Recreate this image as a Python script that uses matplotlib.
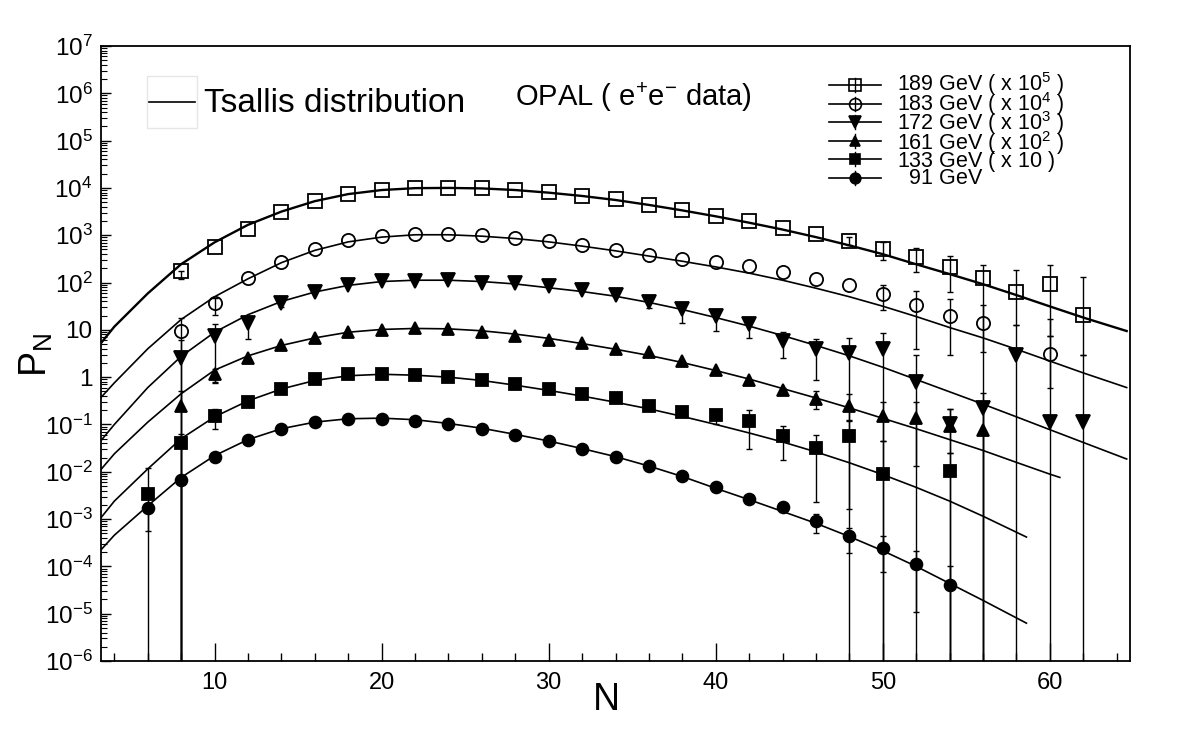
import numpy as np
import matplotlib
matplotlib.use("Agg")
import matplotlib.pyplot as plt
from matplotlib.lines import Line2D
from matplotlib.patches import Rectangle
from matplotlib.ticker import FixedLocator, LogLocator, NullFormatter, MultipleLocator

plt.rcParams['font.family'] = ['Liberation Sans', 'DejaVu Sans']
plt.rcParams['mathtext.fontset'] = 'custom'
plt.rcParams['mathtext.rm'] = 'Liberation Sans'
plt.rcParams['mathtext.it'] = 'Liberation Sans:italic'
plt.rcParams['mathtext.default'] = 'regular'

BOTTOM = 1e-8  # error bars that run off the bottom of the plot

# ---- 189 GeV (x 10^5), open squares
n189 = [8, 10, 12, 14, 16, 18, 20, 22, 24, 26, 28, 30, 32, 34, 36, 38, 40, 42, 44, 46, 48, 50, 52, 54, 56, 58, 60, 62]
v189 = [172, 555, 1350, 3100, 5250, 7500, 9100, 9900, 10000, 9900, 9100, 8150, 6900, 5700, 4450, 3470, 2600, 1980, 1430, 1060, 745, 510, 345, 215, 124, 63, 94, 20.6]
lo189 = [118, 555, 1350, 3100, 5250, 7500, 9100, 9900, 10000, 9900, 9100, 8150, 6900, 5700, 4450, 3470, 2600, 1980, 1430, 1060, 620, 302, 165, 62, BOTTOM, 12.4, 7.4, 2.9]
hi189 = [172, 555, 1350, 3100, 5250, 7500, 9100, 9900, 10000, 9900, 9100, 8150, 6900, 5700, 4450, 3470, 2600, 1980, 1430, 1060, 900, 710, 527, 370, 234, 182, 234, 132]

# ---- 183 GeV (x 10^4), open circles
n183 = [8, 10, 12, 14, 16, 18, 20, 22, 24, 26, 28, 30, 32, 34, 36, 38, 40, 42, 44, 46, 48, 50, 52, 54, 56, 60]
v183 = [9.5, 36.5, 122, 267, 510, 790, 980, 1060, 1060, 1000, 870, 755, 620, 495, 385, 318, 267, 220, 170, 118, 89, 58, 33, 19.7, 14.2, 3.1]
lo183 = [BOTTOM, 21, 122, 267, 510, 790, 980, 1060, 1060, 1000, 870, 755, 620, 495, 385, 318, 267, 220, 170, 118, 89, 26, 3.9, 3.0, 3.4, 0.6]
hi183 = [18, 48, 122, 267, 510, 790, 980, 1060, 1060, 1000, 870, 755, 620, 495, 385, 318, 267, 220, 170, 118, 89, 88, 66, 44, 33, 17]

# ---- 172 GeV (x 10^3), down triangles
n172 = [8, 10, 12, 14, 16, 18, 20, 22, 24, 26, 28, 30, 32, 34, 36, 38, 40, 42, 44, 46, 48, 50, 52, 54, 56, 58, 60, 62]
v172 = [2.6, 7.4, 14.2, 37.8, 62, 88, 107, 107, 111, 97, 96, 83, 68, 55, 39, 27, 19.6, 13.3, 5.8, 3.9, 3.3, 3.9, 0.78, 0.10, 0.224, 2.9, 0.111, 0.111]
lo172 = [BOTTOM, 0.8, 6.3, 30, 62, 88, 107, 107, 111, 97, 96, 83, 68, 55, 29, 14.2, 9.5, 6.6, 2.5, 0.89, BOTTOM, BOTTOM, BOTTOM, BOTTOM, BOTTOM, BOTTOM, BOTTOM, BOTTOM]
hi172 = [6, 13, 18, 45, 62, 88, 107, 107, 111, 97, 96, 83, 68, 55, 44, 34.6, 26.4, 18.2, 9, 6.5, 6.8, 8.7, 3.0, 0.21, 0.47, 12.4, 7.4, 2.9]

# ---- 161 GeV (x 10^2), up triangles
n161 = [8, 10, 12, 14, 16, 18, 20, 22, 24, 26, 28, 30, 32, 34, 36, 38, 40, 42, 44, 46, 48, 50, 52, 54, 56]
v161 = [0.243, 1.15, 2.6, 4.7, 6.8, 9.2, 9.9, 10.8, 10.6, 9.0, 7.4, 6.1, 5.2, 4.0, 3.45, 2.2, 1.41, 0.86, 0.53, 0.34, 0.25, 0.15, 0.135, 0.092, 0.078]
lo161 = [BOTTOM, 0.76, 2.6, 4.7, 6.8, 9.2, 9.9, 10.8, 10.6, 9.0, 7.4, 6.1, 5.2, 4.0, 3.45, 2.2, 1.41, 0.86, 0.45, 0.21, 0.122, 0.044, 0.013, 0.025, BOTTOM]
hi161 = [0.5, 1.5, 2.6, 4.7, 6.8, 9.2, 9.9, 10.8, 10.6, 9.0, 7.4, 6.1, 5.2, 4.0, 3.45, 2.2, 1.41, 0.86, 0.6, 0.5, 0.44, 0.3, 0.3, 0.21, 0.22]

# ---- 133 GeV (x 10), filled squares
n133 = [6, 8, 10, 12, 14, 16, 18, 20, 22, 24, 26, 28, 30, 32, 34, 36, 38, 40, 42, 44, 46, 48, 50, 54]
v133 = [0.0034, 0.041, 0.154, 0.295, 0.567, 0.925, 1.14, 1.14, 1.09, 1.02, 0.89, 0.70, 0.55, 0.43, 0.355, 0.25, 0.185, 0.156, 0.117, 0.056, 0.032, 0.058, 0.0091, 0.0102]
lo133 = [5.6e-4, BOTTOM, 0.081, 0.295, 0.567, 0.925, 1.14, 1.14, 1.09, 1.02, 0.89, 0.70, 0.55, 0.43, 0.355, 0.25, 0.185, 0.10, 0.030, 0.018, 0.0023, 0.0016, BOTTOM, BOTTOM]
hi133 = [0.012, 0.063, 0.21, 0.295, 0.567, 0.925, 1.14, 1.14, 1.09, 1.02, 0.89, 0.70, 0.55, 0.43, 0.355, 0.25, 0.185, 0.20, 0.20, 0.094, 0.061, 0.117, 0.044, 0.025]

# ---- 91 GeV, filled circles
n91 = [6, 8, 10, 12, 14, 16, 18, 20, 22, 24, 26, 28, 30, 32, 34, 36, 38, 40, 42, 44, 46, 48, 50, 52, 54]
v91 = [0.0017, 0.0068, 0.021, 0.048, 0.081, 0.111, 0.131, 0.131, 0.12, 0.102, 0.080, 0.061, 0.044, 0.030, 0.021, 0.0134, 0.0083, 0.0048, 0.0027, 0.0018, 0.00091, 0.00043, 0.00025, 0.000112, 0.00004]
lo91 = [BOTTOM, BOTTOM, 0.021, 0.048, 0.081, 0.111, 0.131, 0.131, 0.12, 0.102, 0.080, 0.061, 0.044, 0.030, 0.021, 0.0134, 0.0083, 0.0048, 0.0027, 0.0018, 5e-4, 1.9e-4, 7.7e-5, 1.1e-5, BOTTOM]
hi91 = [0.0017, 0.0068, 0.021, 0.048, 0.081, 0.111, 0.131, 0.131, 0.12, 0.102, 0.080, 0.061, 0.044, 0.030, 0.021, 0.0134, 0.0083, 0.0048, 0.0027, 0.0018, 1.3e-3, 6.4e-4, 4.3e-4, 2.1e-4, 1e-4]

# ---- Tsallis curves
cn_long = [3.2, 4, 6, 8, 10, 12, 14, 16, 18, 20, 22, 24, 26, 28, 30, 32, 34, 36, 38, 40, 42, 44, 46, 48, 50, 52, 54, 56, 58, 60, 62, 64.6]
c189 = [5.25, 11.7, 58.9, 245, 708, 1660, 3160, 5250, 7410, 9020, 9890, 10000, 9770, 9020, 7940, 6760, 5560, 4370, 3350, 2510, 1840, 1320, 912, 610, 398, 243, 151, 92.3, 54.3, 31.3, 18.2, 9.44]
c183 = [0.372, 0.759, 3.98, 16.6, 50.1, 120, 263, 479, 724, 912, 1023, 1023, 955, 851, 724, 589, 468, 363, 282, 214, 158, 112, 75.9, 50.1, 31.6, 19.1, 11.2, 6.76, 3.89, 2.19, 1.23, 0.603]
c172 = [0.0457, 0.1, 0.603, 2.75, 8.91, 20.9, 39.8, 63.1, 87.1, 105, 112, 112, 105, 93.3, 77.6, 64.6, 51.3, 38.0, 26.9, 18.2, 12.0, 7.59, 4.68, 2.82, 1.62, 0.891, 0.490, 0.269, 0.145, 0.0776, 0.0417, 0.0186]
cn161 = [3.2, 4, 6, 8, 10, 12, 14, 16, 18, 20, 22, 24, 26, 28, 30, 32, 34, 36, 38, 40, 42, 44, 46, 48, 50, 52, 54, 56, 58, 60, 60.6]
c161 = [0.0112, 0.024, 0.112, 0.447, 1.41, 2.82, 4.68, 6.76, 8.91, 10.2, 10.7, 10.5, 9.55, 8.13, 6.61, 5.13, 3.89, 2.88, 2.04, 1.38, 0.912, 0.575, 0.363, 0.224, 0.135, 0.0813, 0.0479, 0.0282, 0.0158, 0.00891, 0.00759]
cn_short = [3.2, 4, 6, 8, 10, 12, 14, 16, 18, 20, 22, 24, 26, 28, 30, 32, 34, 36, 38, 40, 42, 44, 46, 48, 50, 52, 54, 56, 58.6]
c133 = [1.07e-3, 2.4e-3, 0.0115, 0.0501, 0.145, 0.316, 0.562, 0.851, 1.07, 1.15, 1.10, 1.0, 0.851, 0.676, 0.525, 0.398, 0.295, 0.214, 0.148, 0.1, 0.0661, 0.0427, 0.0263, 0.0155, 8.71e-3, 4.68e-3, 2.40e-3, 1.15e-3, 4.17e-4]
c91 = [2.24e-4, 4.57e-4, 1.91e-3, 7.59e-3, 0.0219, 0.0479, 0.0813, 0.112, 0.132, 0.136, 0.126, 0.105, 0.0832, 0.0617, 0.0447, 0.0309, 0.0209, 0.0132, 7.94e-3, 4.47e-3, 2.57e-3, 1.45e-3, 8.13e-4, 4.27e-4, 2.14e-4, 1.0e-4, 4.37e-5, 1.91e-5, 6.31e-6]

# every line carries a superscript (an invisible one for the last two) so the
# multi-line block keeps an even line pitch
legend_labels = ['189 GeV ( x 10$^{5}$ )', '183 GeV ( x 10$^{4}$ )', '172 GeV ( x 10$^{3}$ )',
                 '161 GeV ( x 10$^{2}$ )', '133 GeV ( x 10 )$^{\\,}$', '  91 GeV$^{\\,}$']

W, H = 1182, 738
fig = plt.figure(figsize=(W / 100, H / 100), dpi=100)
ax = fig.add_axes([101 / W, 1 - 661 / H, (1130 - 101) / W, (661 - 46) / H])

def fx(px):
    return px / W

def fy(py):
    return 1 - py / H

# marker, face, size
styles = [('s', 'none', 9.5), ('o', 'none', 9.5), ('v', 'black', 9.5),
          ('^', 'black', 8.5), ('s', 'black', 8.5), ('o', 'black', 8.5)]
data = [(n189, v189, lo189, hi189), (n183, v183, lo183, hi183), (n172, v172, lo172, hi172),
        (n161, v161, lo161, hi161), (n133, v133, lo133, hi133), (n91, v91, lo91, hi91)]
curves = [(cn_long, c189, 1.7), (cn_long, c183, 1.2), (cn_long, c172, 1.2),
          (cn161, c161, 1.2), (cn_short, c133, 1.2), (cn_short, c91, 1.2)]

for cn, cv, lw in curves:
    ax.plot(cn, cv, color='black', lw=lw, zorder=2)

for (n, v, lo, hi), (mk, face, ms) in zip(data, styles):
    n = np.array(n)
    v = np.array(v)
    lo = np.array(lo)
    hi = np.array(hi)
    # only points whose bars stick out of the marker get a bar
    has_bar = (lo < v) | (hi > v)
    ax.errorbar(n[has_bar], v[has_bar], yerr=[v[has_bar] - lo[has_bar], hi[has_bar] - v[has_bar]],
                fmt='none', ecolor='black', elinewidth=1.0, capsize=2.5, capthick=1.0, zorder=3)
    ax.plot(n, v, ls='none', marker=mk, ms=ms, mfc=face, mec='black', mew=1.3, zorder=4)

ax.set_yscale('log')
ax.set_ylim(1e-6, 1e7)
ax.set_xlim(3.2, 64.8)

dec = list(range(-6, 8))
ax.yaxis.set_major_locator(FixedLocator([10.0 ** k for k in dec]))
ax.set_yticklabels(['1' if k == 0 else '10' if k == 1 else '$10^{%d}$' % k for k in dec], fontsize=17.5)
ax.yaxis.set_minor_locator(LogLocator(base=10, subs=np.arange(2, 10), numticks=100))
ax.yaxis.set_minor_formatter(NullFormatter())
ax.xaxis.set_major_locator(MultipleLocator(10))
ax.xaxis.set_minor_locator(MultipleLocator(2))
ax.tick_params(axis='x', which='major', direction='in', length=13, width=1, labelsize=17, pad=8,
               top=False)
ax.tick_params(axis='x', which='minor', direction='in', length=6, width=1, top=False)
ax.tick_params(axis='y', which='major', direction='in', length=7, width=1, pad=6, right=False)
ax.tick_params(axis='y', which='minor', direction='in', length=4, width=0.8, right=False)
for sp in ax.spines.values():
    sp.set_linewidth(1.3)

fig.text(fx(606), fy(700), 'N', fontsize=27, ha='center', va='center')
fig.text(fx(36), fy(355), 'P$_{N}$', fontsize=27, ha='center', va='center', rotation=90)

# "Tsallis distribution" key
fig.add_artist(Rectangle((fx(147), fy(128)), 50 / W, 52 / H, transform=fig.transFigure,
                         fill=False, edgecolor='#e6e6e6', lw=1))
fig.add_artist(Line2D([fx(149), fx(195)], [fy(102), fy(102)], transform=fig.transFigure,
                      color='black', lw=1.2))
fig.text(fx(204), fy(104), 'Tsallis distribution', fontsize=24, ha='left', va='center')
fig.text(fx(515), fy(97), 'OPAL ( e$^{+}$e$^{-}$ data)', fontsize=21, ha='left', va='center')

# series key, top right: symbols drawn per row, labels as one text block
rows = [85, 103.5, 122, 140.5, 159, 177.5]
for ry, (mk, face, ms) in zip(rows, styles):
    fig.add_artist(Line2D([fx(829), fx(881)], [fy(ry), fy(ry)], transform=fig.transFigure,
                          color='black', lw=1.2))
    fig.add_artist(Line2D([fx(855), fx(855)], [fy(ry - 7), fy(ry + 7)], transform=fig.transFigure,
                          color='black', lw=1.0))
    fig.add_artist(Line2D([fx(855)], [fy(ry)], transform=fig.transFigure, marker=mk,
                          ms=ms * 0.9, mfc=face, mec='black', mew=1.2, ls='none'))
fig.text(fx(897), fy(177.5 + 6.5), '\n'.join(legend_labels), fontsize=15.5, ha='left',
         va='baseline', linespacing=0.6)

fig.savefig('out.png', dpi=100)
